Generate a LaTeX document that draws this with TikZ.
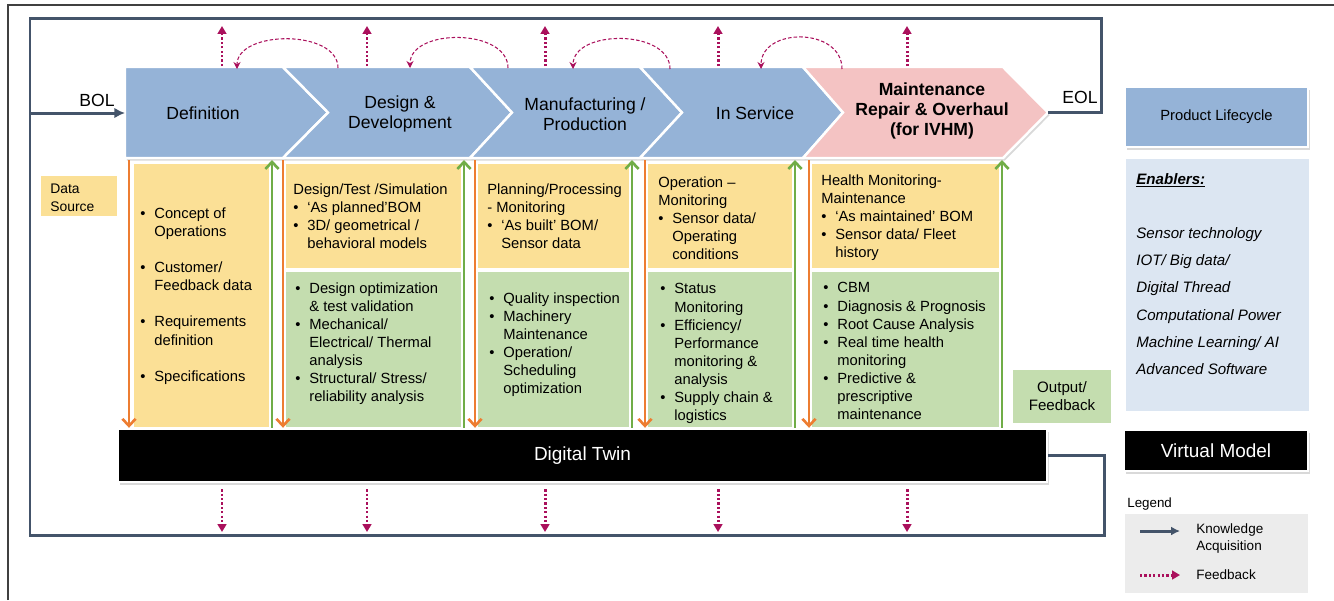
\documentclass[tikz,border=0pt]{standalone}
\usepackage{fontspec}
\setmainfont{Liberation Sans}
\usepackage{tikz}
\usetikzlibrary{positioning, calc, fit, shadows, arrows.meta}
\definecolor{chevblue}{RGB}{149,179,215}
\definecolor{chevpink}{RGB}{244,195,195}
\definecolor{colyellow}{RGB}{251,224,150}
\definecolor{colgreen}{RGB}{196,221,175}
\definecolor{enablerblue}{RGB}{220,230,242}
\definecolor{kablue}{RGB}{68,84,106}
\definecolor{fbmagenta}{RGB}{170,16,92}
\definecolor{upgreen}{RGB}{112,173,71}
\definecolor{downorange}{RGB}{237,125,49}
\definecolor{legendgrey}{RGB}{236,236,236}
\newcommand{\bul}{\makebox[0.28cm][l]{\textbullet}}
\newcommand{\ind}{\hspace*{0.28cm}}
\tikzset{
    chev/.style={
        draw=white, line width=1.4pt, fill=chevblue,
        drop shadow={shadow xshift=1pt, shadow yshift=-1.5pt, opacity=0.3}
    },
    chevtext/.style={
        align=center, inner sep=0pt, font=\fontsize{10}{11.3}\selectfont
    },
    colbox/.style={
        inner sep=0pt, draw=white, line width=0.6pt,
        drop shadow={shadow xshift=0.8pt, shadow yshift=-0.8pt, opacity=0.2}
    },
    coltext/.style={
        anchor=north west, align=left, inner sep=0pt,
        font=\fontsize{8.4}{10.3}\selectfont, execute at begin node=\strut
    },
    onetext/.style={
        anchor=base west, inner sep=0pt, font=\fontsize{8.4}{10.3}\selectfont
    },
    blackbox/.style={
        inner sep=0pt, fill=black, draw=white, line width=1.4pt,
        drop shadow={shadow xshift=1pt, shadow yshift=-1.5pt, opacity=0.3}
    },
    whitetext/.style={
        text=white, inner sep=0pt, font=\fontsize{10.8}{13}\selectfont
    }
}

\begin{document}
\begin{tikzpicture}[
        x=0.02cm, y=-0.02cm,
        % --- STYLE ---
        kaline/.style={kablue, line width=1.7pt},
        kaarrow/.style={kaline, -{Latex[length=6pt,width=6pt]}},
        fbline/.style={fbmagenta, line width=1.7pt, dash pattern=on 1.3pt off 1.2pt, -{Triangle[length=4.5pt,width=5pt]}},
        fbarc/.style={fbmagenta, line width=0.6pt, dash pattern=on 2pt off 1.2pt, -{Stealth[length=4pt,width=4pt]}},
        downarr/.style={downorange, line width=1.5pt, -{Straight Barb[length=4pt,width=7.5pt]}},
        uparr/.style={upgreen, line width=1.5pt, -{Straight Barb[length=4pt,width=7.5pt]}}
    ]
        \useasboundingbox (0,0) rectangle (1334,600);

        % --- FRAME ---
        \draw[black!75, line width=0.8pt] (8,600) -- (8,5) -- (1334,5);

        % --- CHEVRONS ---
        \path[chev] (125,67) -- (283,67) -- (328,112.5) -- (283,158) -- (125,158) -- cycle;
        \path[chev] (283,67) -- (470,67) -- (512,112.5) -- (470,158) -- (283,158) -- (328,112.5) -- cycle;
        \path[chev] (470,67) -- (640,67) -- (682,112.5) -- (640,158) -- (470,158) -- (512,112.5) -- cycle;
        \path[chev] (640,67) -- (803,67) -- (843,112.5) -- (803,158) -- (640,158) -- (682,112.5) -- cycle;
        \path[chev, fill=chevpink] (803,67) -- (1003,67) -- (1048,112.5) -- (1003,158) -- (803,158) -- (843,112.5) -- cycle;

        \node[chevtext] (def) at (203,113) {Definition};
        \node[chevtext] (des) at (400,114) {Design \&\\Development};
        \node[chevtext] (man) at (585,114) {Manufacturing /\\Production};
        \node[chevtext] (ins) at (755,113) {In Service};
        \node[chevtext, font=\fontsize{10}{11.3}\selectfont\bfseries] (mro) at (932,111) {Maintenance\\Repair \& Overhaul\\(for IVHM)};

        \coordinate (bol) at (125,113);
        \coordinate (eol) at (1048,112.5);
        \node (bollbl) at (97,100) {\fontsize{10}{12}\selectfont BOL};
        \node (eollbl) at (1080,97) {\fontsize{10}{12}\selectfont EOL};

        % --- COLUMNS ---
        \node[colbox, fill=colyellow, fit={(133,163) (270,428)}] (c1) {};
        \node[colbox, fill=colyellow, fit={(285,163) (462,269)}] (c2a) {};
        \node[colbox, fill=colgreen, fit={(285,271) (462,428)}] (c2b) {};
        \node[colbox, fill=colyellow, fit={(477,163) (630,269)}] (c3a) {};
        \node[colbox, fill=colgreen, fit={(477,271) (630,428)}] (c3b) {};
        \node[colbox, fill=colyellow, fit={(647,163) (793,269)}] (c4a) {};
        \node[colbox, fill=colgreen, fit={(647,271) (793,428)}] (c4b) {};
        \node[colbox, fill=colyellow, fit={(811,163) (1000,269)}] (c5a) {};
        \node[colbox, fill=colgreen, fit={(811,271) (1000,428)}] (c5b) {};

        \node[coltext] (t1) at (140,207.3) {\bul Concept of\\\ind Operations\\[10.3pt]\bul Customer/\\\ind Feedback data\\[10.3pt]\bul Requirements\\\ind definition\\[10.3pt]\bul Specifications};
        \node[coltext] (t2a) at (293,183.3) {Design/Test /Simulation\\\bul ‘As planned’BOM\\\bul 3D/ geometrical /\\\ind behavioral models};
        \node[coltext] (t2b) at (295,282.3) {\bul Design optimization\\\ind \& test validation\\\bul Mechanical/\\\ind Electrical/ Thermal\\\ind analysis\\\bul Structural/ Stress/\\\ind reliability analysis};
        \node[coltext] (t3a) at (487,183.3) {Planning/Processing\\- Monitoring\\\bul ‘As built’ BOM/\\\ind Sensor data};
        \node[coltext] (t3b) at (489,292.3) {\bul Quality inspection\\\bul Machinery\\\ind Maintenance\\\bul Operation/\\\ind Scheduling\\\ind optimization};
        \node[coltext] (t4a) at (658,176.3) {Operation –\\Monitoring\\\bul Sensor data/\\\ind Operating\\\ind conditions};
        \node[coltext] (t4b) at (660,283.3) {\bul Status\\\ind Monitoring\\\bul Efficiency/\\\ind Performance\\\ind monitoring \&\\\ind analysis\\\bul Supply chain \&\\\ind logistics};
        \node[coltext] (t5a) at (821,174.3) {Health Monitoring-\\Maintenance\\\bul ‘As maintained’ BOM\\\bul Sensor data/ Fleet\\\ind history};
        \node[coltext] (t5b) at (823,282.3) {\bul CBM\\\bul Diagnosis \& Prognosis\\\bul Root Cause Analysis\\\bul Real time health\\\ind monitoring\\\bul Predictive \&\\\ind prescriptive\\\ind maintenance};

        % --- SIDE BOXES ---
        \node[colbox, fill=colyellow, fit={(40,175) (118,217)}] (src) {};
        \node[coltext, font=\fontsize{7.9}{10.3}\selectfont] (srclbl) at (50,183.3) {Data\\Source};
        \node[colbox, fill=colgreen, fit={(1012,369) (1112,424)}] (out) {};
        \node[align=center, inner sep=0pt, font=\fontsize{8.6}{10.3}\selectfont] (outlbl) at (out.center) {Output/\\Feedback};

        % --- DIGITAL TWIN ---
        \node[blackbox, fit={(118,429) (1047,482)}] (dt) {};
        \node[whitetext] (dtlbl) at (dt.center) {Digital Twin};

        % --- KNOWLEDGE LOOP ---
        \coordinate (kbr) at (1104,535);
        \coordinate (kbl) at (30,535);
        \coordinate (ktl) at (30,18);
        \coordinate (ktr) at (1101,18);
        \draw[kaline] (dt.east) -| (kbr) -- (kbl) -- (ktl) -- (ktr) |- (eol);
        \draw[kaarrow] (ktl |- bol) -- (bol);

        % --- ORANGE / GREEN ARROWS ---
        \foreach \x [count=\i] in {129,283,475,645,809} {
            \coordinate (o\i) at (\x,160);
            \draw[downarr] (o\i) -- (o\i |- dt.north);
        }
        \foreach \x [count=\i] in {272,464,632,795,1002} {
            \coordinate (g\i) at (\x,160);
            \draw[uparr] (g\i |- dt.north) -- (g\i);
        }

        % --- FEEDBACK ---
        \coordinate (ctop) at (0,66);
        \coordinate (fbtop) at (0,26);
        \coordinate (fbbot) at (0,532);
        \foreach \x [count=\i] in {222,367,545,718,907} {
            \coordinate (f\i) at (\x,0);
            \draw[fbline] (f\i |- ctop) -- (f\i |- fbtop);
            \draw[fbline] ($(f\i |- dt.south)+(0,6)$) -- (f\i |- fbbot);
        }
        \coordinate (a1s) at (338,68);  \coordinate (a1e) at (237,69);
        \coordinate (a2s) at (508,68);  \coordinate (a2e) at (410,68);
        \coordinate (a3s) at (670,69);  \coordinate (a3e) at (573,69);
        \coordinate (a4s) at (842,69);  \coordinate (a4e) at (761,69);
        \draw[fbarc] (a1s) .. controls +(0,-39) and +(0,-39) .. (a1e);
        \draw[fbarc] (a2s) .. controls +(0,-40) and +(0,-40) .. (a2e);
        \draw[fbarc] (a3s) .. controls +(0,-40) and +(0,-40) .. (a3e);
        \draw[fbarc] (a4s) .. controls +(0,-42) and +(0,-42) .. (a4e);

        % --- RIGHT PANEL ---
        \node[chev, inner sep=0pt, fit={(1125,87) (1308,147)}] (plc) {};
        \node[inner sep=0pt, font=\fontsize{8.4}{10}\selectfont] (plclbl) at (plc.center) {Product Lifecycle};
        \node[colbox, fill=enablerblue, fit={(1125,158) (1310,412)}] (enb) {};
        \node[onetext, font=\fontsize{8.6}{10}\selectfont\bfseries\itshape] (enbhd) at (1136,184) {\underline{Enablers:}};
        \node[coltext, font=\fontsize{8.6}{15.5}\selectfont\itshape] (enblist) at (1136,227) {Sensor technology\\IOT/ Big data/\\Digital Thread\\Computational Power\\Machine Learning/ AI\\Advanced Software};
        \node[blackbox, fit={(1124,430) (1308,471)}] (vm) {};
        \node[whitetext] (vmlbl) at (vm.center) {Virtual Model};

        % --- LEGEND ---
        \node[onetext, font=\fontsize{7.6}{9.7}\selectfont] (leg) at (1127,507) {Legend};
        \node[fill=legendgrey, inner sep=0pt, fit={(1125,514) (1308,593)}] (legbox) {};
        \coordinate (lka1) at (1140,531);  \coordinate (lka2) at (1180,531);
        \coordinate (lfb1) at (1140,575);  \coordinate (lfb2) at (1180,575);
        \draw[kaline, -{Latex[length=5pt,width=5pt]}] (lka1) -- (lka2);
        \draw[fbline] (lfb1) -- (lfb2);
        \node[coltext, font=\fontsize{7.7}{9.7}\selectfont] (lkatxt) at (1196,523) {Knowledge\\Acquisition};
        \node[onetext, font=\fontsize{7.7}{9.7}\selectfont] (lfbtxt) at (1196,579) {Feedback};

    \end{tikzpicture}
\end{document}
